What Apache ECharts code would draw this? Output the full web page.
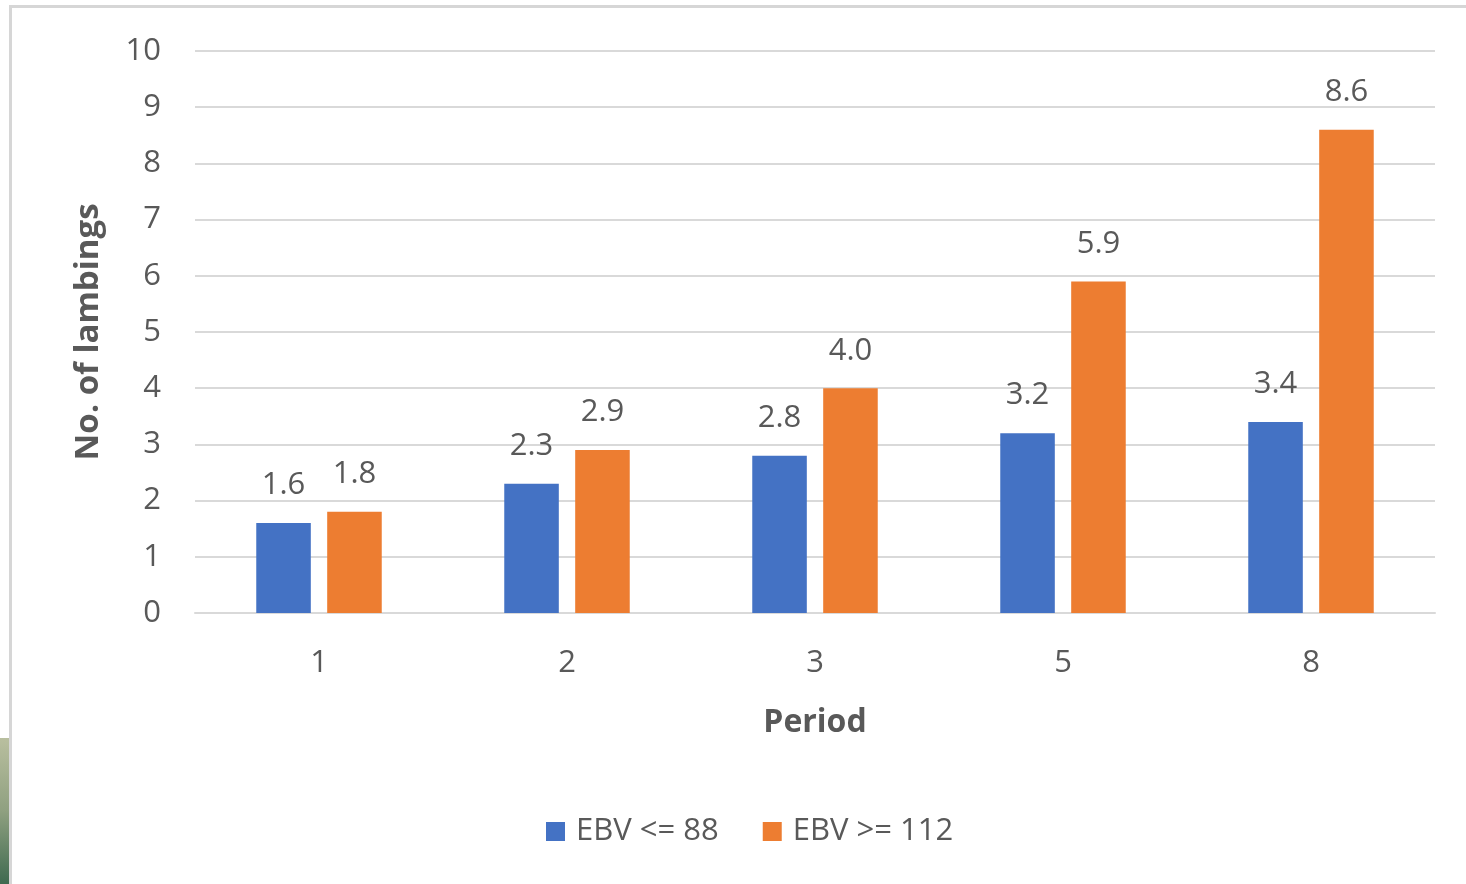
<!DOCTYPE html>
<html>
<head>
<meta charset="utf-8">
<script src="https://cdn.jsdelivr.net/npm/echarts@6/dist/echarts.min.js"></script>
<style>
html,body{margin:0;padding:0;background:#fff;}
#wrap{position:absolute;left:0;top:0;width:1466px;height:884px;overflow:hidden;background:#fff;}
#frameTop{position:absolute;left:9px;top:5px;width:1457px;height:3px;background:#d6d6d6;}
#frameLeft{position:absolute;left:9px;top:5px;width:3px;height:879px;background:#d6d6d6;}
#strip{position:absolute;left:0;top:738px;width:9px;height:146px;background:linear-gradient(#b9bf9f,#8fa080 50%,#3f6a50);}
#chart{position:absolute;left:12px;top:8px;width:1454px;height:876px;}
</style>
</head>
<body>
<div id="wrap">
<div id="strip"></div>
<div id="frameTop"></div>
<div id="frameLeft"></div>
<div id="chart"></div>
</div>
<script>
const categories = ['1', '2', '3', '5', '8'];
const seriesNames = ['EBV <= 88', 'EBV >= 112'];
const lowEBV = [1.6, 2.3, 2.8, 3.2, 3.4];
const highEBV = [1.8, 2.9, 4.0, 5.9, 8.6];
const yTicks = { min: 0, max: 10, interval: 1 };

const FONT = '"Open Sans", "Noto Sans", sans-serif';
const TXT = '#595959';
const chart = echarts.init(document.getElementById('chart'));
const labelCfg = {
  show: true, position: 'top', distance: 22,
  color: TXT, fontFamily: FONT, fontSize: 31,
  formatter: p => p.value.toFixed(1)
};
chart.setOption({
  animation: false,
  grid: { left: 183, right: 31, top: 43, bottom: 271, containLabel: false },
  legend: {
    bottom: 32, left: 529,
    itemWidth: 19, itemHeight: 19, itemGap: 44,
    icon: 'rect',
    textStyle: { color: TXT, fontFamily: FONT, fontSize: 31, padding: [0, 0, 0, 6] },
    data: seriesNames
  },
  xAxis: {
    type: 'category', data: categories,
    name: 'Period', nameLocation: 'middle', nameGap: 94,
    nameTextStyle: { color: TXT, fontFamily: FONT, fontSize: 32, fontWeight: 'bold' },
    axisLine: { lineStyle: { color: '#d9d9d9', width: 2 } },
    axisTick: { show: false },
    axisLabel: { color: TXT, fontFamily: FONT, fontSize: 31, margin: 35 }
  },
  yAxis: {
    type: 'value', min: yTicks.min, max: yTicks.max, interval: yTicks.interval,
    name: 'No. of lambings', nameLocation: 'middle', nameGap: 90,
    nameTextStyle: { color: TXT, fontFamily: FONT, fontSize: 33, fontWeight: 'bold' },
    axisLine: { show: false },
    axisTick: { show: false },
    axisLabel: { color: TXT, fontFamily: FONT, fontSize: 31, margin: 34 },
    splitLine: { lineStyle: { color: '#d9d9d9', width: 2 } }
  },
  series: [
    { name: seriesNames[0], type: 'bar', data: lowEBV, barWidth: '22%', barGap: '30%',
      itemStyle: { color: '#4472C4' }, label: labelCfg },
    { name: seriesNames[1], type: 'bar', data: highEBV, barWidth: '22%', barGap: '30%',
      itemStyle: { color: '#ED7D31' }, label: labelCfg }
  ]
});
</script>
</body>
</html>
